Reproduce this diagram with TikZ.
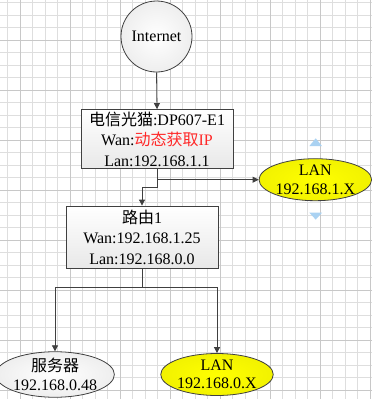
\documentclass[tikz,border=0pt]{standalone}
\usepackage{fontspec}
\setmainfont{Liberation Serif}
\newfontfamily\cjk{Noto Sans CJK SC}
\usetikzlibrary{arrows.meta,shapes.geometric,shadings}
\newcommand\zh[1]{{\cjk #1}}
\definecolor{gridlight}{RGB}{222,222,222}
\definecolor{griddark}{RGB}{200,200,200}
\definecolor{edgegray}{RGB}{64,64,64}
\definecolor{boxbottom}{RGB}{232,232,232}
\definecolor{ballouter}{RGB}{238,238,238}
\definecolor{yelouter}{RGB}{242,242,0}
\definecolor{redtext}{RGB}{255,40,40}
\definecolor{handleblue}{RGB}{170,210,242}
\tikzset{
  boxnode/.style={draw=edgegray, line width=0.8pt, rectangle, top color=white, bottom color=boxbottom,
    minimum width=152pt, inner sep=0pt, align=center, font=\fontsize{16}{20.5}\selectfont},
  ballnode/.style={draw=edgegray, line width=0.8pt, circle, inner color=white, outer color=ballouter,
    minimum size=71pt, inner sep=0pt, font=\fontsize{16}{18}\selectfont},
  grayell/.style={draw=edgegray, line width=0.8pt, ellipse, inner color=white, outer color=ballouter,
    minimum width=106pt, minimum height=42pt, inner sep=0pt, align=center, font=\fontsize{16}{18.5}\selectfont},
  yelell/.style={draw=edgegray, line width=0.8pt, ellipse, inner color=yellow, outer color=yelouter,
    minimum width=106pt, minimum height=42pt, inner sep=0pt, align=center, font=\fontsize{16}{18.5}\selectfont},
  arr/.style={draw=edgegray, line width=0.8pt, -{Triangle[length=6pt,width=6pt]}},
  handle/.style={fill=handleblue, draw=none}
}
\begin{document}
\begin{tikzpicture}[x=1pt,y=-1pt]
\fill[white] (0,0) rectangle (372,399);
\useasboundingbox (0,0) rectangle (372,399);
% grid
\foreach \i in {0,...,29} {\draw[gridlight, line width=0.8pt] (7.5+12.5*\i,0) -- (7.5+12.5*\i,399);}
\foreach \i in {0,...,31} {\draw[gridlight, line width=0.8pt] (0,2.5+12.5*\i) -- (372,2.5+12.5*\i);}
\foreach \i in {0,...,7} {\draw[griddark, line width=0.8pt] (20+50*\i,0) -- (20+50*\i,399);}
\foreach \i in {0,...,7} {\draw[griddark, line width=0.8pt] (0,40+50*\i) -- (372,40+50*\i);}
% nodes
\node[ballnode] (inet) at (156.5,36.5) {Internet};
\node[boxnode, minimum height=59pt] (box1) at (157,139) {\zh{电信光猫}:DP607-E1\\Wan:\textcolor{redtext}{\zh{动态获取}IP}\\Lan:192.168.1.1};
\node[yelell] (lan1) at (315.3,179.7) {LAN\\192.168.1.X};
\node[boxnode, minimum height=62pt] (box2) at (142,237) {\zh{路由}1\\Wan:192.168.1.25\\Lan:192.168.0.0};
\node[grayell] (srv) at (55,374.5) {\zh{服务器}\\192.168.0.48};
\node[yelell] (lan2) at (217,374.5) {LAN\\192.168.0.X};
% selection handles
\fill[handle] (309.3,146.2) -- (315.7,138.3) -- (322.1,146.2) -- cycle;
\fill[handle] (309.3,212.6) -- (315.7,219.6) -- (322.1,212.6) -- cycle;
% connectors
\coordinate (j1) at (157,187.3);
\coordinate (j2) at (142,287.3);
\draw[arr] (inet.south) -- (box1.north);
\draw[arr] (box1.south) |- (lan1.west);
\draw[arr] (box1.south) -- (j1) -| (box2.north);
\draw[arr] (box2.south) -- (j2) -| (srv.north);
\draw[arr] (j2) -| (lan2.north);
\end{tikzpicture}
\end{document}
